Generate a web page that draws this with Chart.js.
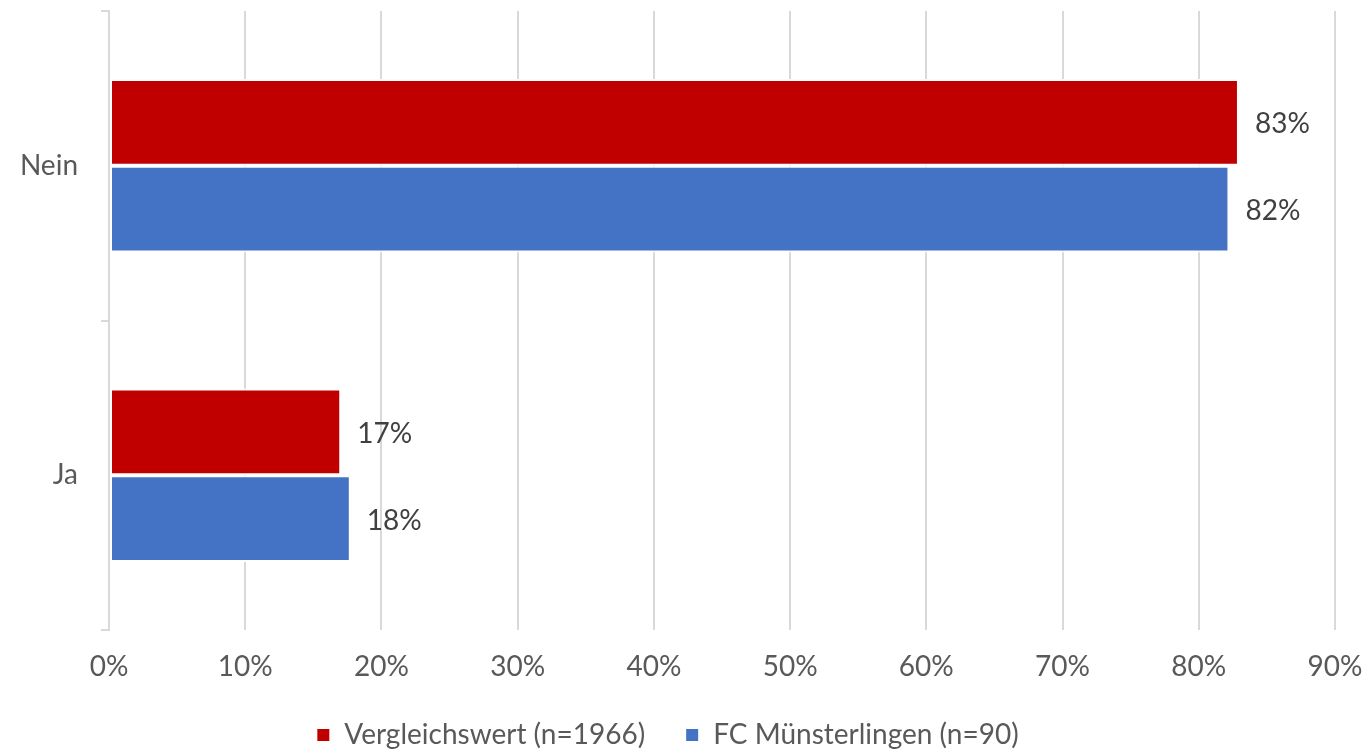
<!DOCTYPE html>
<html>
<head>
<meta charset="utf-8">
<script src="https://cdn.jsdelivr.net/npm/chart.js@4/dist/chart.umd.min.js"></script>
<style>
    html, body { margin: 0; padding: 0; background: #ffffff; }
    #wrap { width: 1369px; height: 750px; }
</style>
</head>
<body>
<div id="wrap"><canvas id="answerChart" width="1369" height="750"></canvas></div>
<script>
// chart values
const categories = ['Nein', 'Ja'];
const seriesNames = ['Vergleichswert (n=1966)', 'FC Münsterlingen (n=90)'];
const vergleichValues = [82.95, 17.05];
const muensterlingenValues = [82.25, 17.75];
const valueLabelsVergleich = ['83%', '17%'];
const valueLabelsMuensterlingen = ['82%', '18%'];
const tickValues = [0, 10, 20, 30, 40, 50, 60, 70, 80, 90];

const fontName = "Lato, 'Open Sans', sans-serif";
const fontSize = 28;

/*
    Small plugin to write the percent label right of each bar.
*/
const barLabelPlugin = {
    id: 'barLabels',
    afterDatasetsDraw(chart) {
        const ctx = chart.ctx;
        ctx.save();
        ctx.font = fontSize + 'px ' + fontName;
        ctx.fillStyle = '#404040';
        ctx.textAlign = 'left';
        ctx.textBaseline = 'middle';
        chart.data.datasets.forEach((ds, i) => {
            const meta = chart.getDatasetMeta(i);
            meta.data.forEach((bar, j) => {
                ctx.fillText(ds.valueLabels[j], bar.x + 16, bar.y + 2);
            });
        });
        ctx.restore();
    }
};

const ctx = document.getElementById('answerChart').getContext('2d');
const myChart = new Chart(ctx, {
    type: 'bar',
    data: {
        labels: categories,
        datasets: [
            {
                label: seriesNames[0],
                data: vergleichValues,
                valueLabels: valueLabelsVergleich,
                backgroundColor: '#C00000',
                borderColor: '#FFFFFF',
                borderWidth: 2,
                borderSkipped: false,
                categoryPercentage: 0.56,
                barPercentage: 1.0
            },
            {
                label: seriesNames[1],
                data: muensterlingenValues,
                valueLabels: valueLabelsMuensterlingen,
                backgroundColor: '#4472C4',
                borderColor: '#FFFFFF',
                borderWidth: 2,
                borderSkipped: false,
                categoryPercentage: 0.56,
                barPercentage: 1.0
            }
        ]
    },
    options: {
        indexAxis: 'y',
        responsive: false,
        animation: false,
        layout: {
            padding: { left: 0, right: 34, top: 11, bottom: -9 }
        },
        scales: {
            x: {
                min: 0,
                max: 90,
                afterBuildTicks: (scale) => {
                    scale.ticks = tickValues.map(v => ({ value: v }));
                },
                afterFit: (scale) => {
                    scale.height = 51;
                    scale.paddingLeft = 0;
                    scale.paddingRight = 0;
                },
                ticks: {
                    color: '#595959',
                    font: { family: fontName, size: fontSize },
                    padding: 20,
                    callback: (v) => v + '%'
                },
                grid: {
                    color: '#D9D9D9',
                    lineWidth: 2,
                    drawTicks: false
                },
                border: { display: false }
            },
            y: {
                afterFit: (scale) => {
                    scale.width = 109;
                    scale.paddingTop = 0;
                    scale.paddingBottom = 0;
                },
                ticks: {
                    color: '#595959',
                    font: { family: fontName, size: fontSize },
                    padding: 23
                },
                grid: {
                    offset: true,
                    drawOnChartArea: false,
                    drawTicks: true,
                    tickLength: 8,
                    color: '#D9D9D9',
                    lineWidth: 2
                },
                border: { display: true, color: '#D9D9D9', width: 2 }
            }
        },
        plugins: {
            legend: {
                position: 'bottom',
                labels: {
                    color: '#595959',
                    font: { family: fontName, size: fontSize },
                    boxWidth: 14,
                    boxHeight: 14,
                    padding: 40
                }
            },
            tooltip: { enabled: false }
        }
    },
    plugins: [barLabelPlugin]
});
</script>
</body>
</html>
